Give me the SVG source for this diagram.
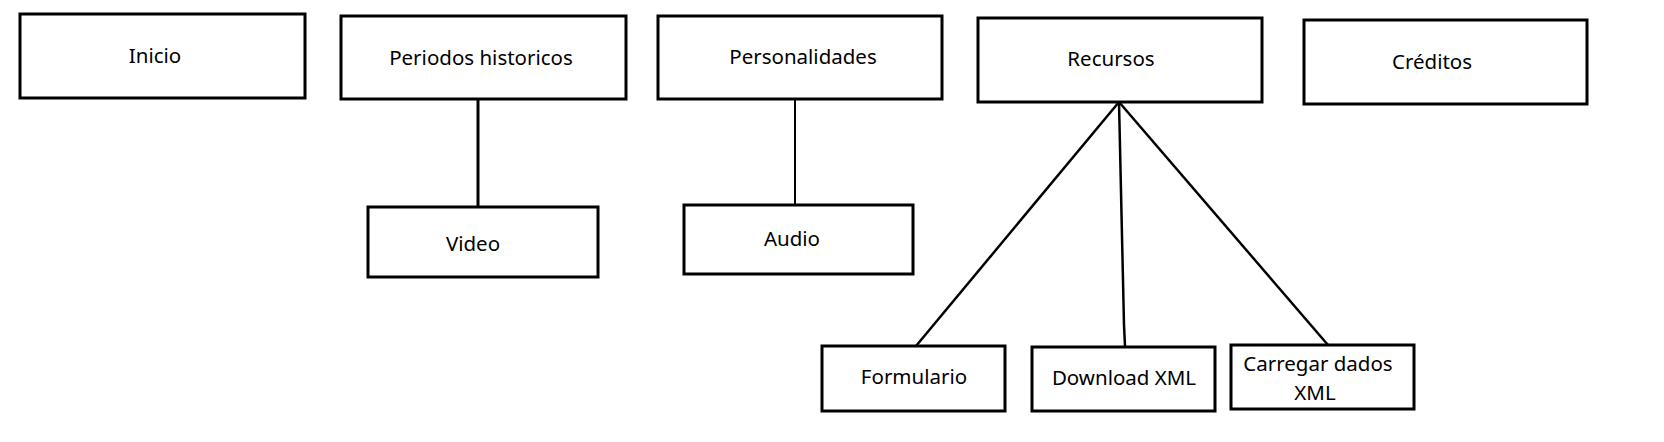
<svg xmlns="http://www.w3.org/2000/svg" width="1664" height="442" viewBox="0 0 1664 442">
<style>
.box{fill:#fff;stroke:#000;stroke-width:3}
.lbl{font-family:"Noto Sans","Liberation Sans",sans-serif;font-size:20.5px;fill:#000;text-anchor:middle}
.con{fill:none;stroke:#000;stroke-width:2.5;stroke-linejoin:round}
</style>
<rect width="1664" height="442" fill="#fff"/>
<g id="connectors">
<line class="con" x1="478" y1="99" x2="478" y2="207" style="stroke-width:3"/>
<line class="con" x1="795" y1="99" x2="795" y2="205" style="stroke-width:2"/>
<line class="con" x1="1119" y1="102" x2="916" y2="346"/>
<polyline class="con" points="1119,102 1124,325 1125,346"/>
<line class="con" x1="1119" y1="102" x2="1328" y2="345"/>
</g>
<g id="inicio"><rect class="box" x="20" y="14" width="285" height="84"/><text class="lbl" x="155" y="63">Inicio</text></g>
<g id="periodos"><rect class="box" x="341" y="16" width="285" height="83"/><text class="lbl" x="481" y="65">Periodos historicos</text></g>
<g id="video"><rect class="box" x="368" y="207" width="230" height="70"/><text class="lbl" x="473" y="251">Video</text></g>
<g id="personalidades"><rect class="box" x="658" y="16" width="284" height="83"/><text class="lbl" x="803" y="64">Personalidades</text></g>
<g id="audio"><rect class="box" x="684" y="205" width="229" height="69"/><text class="lbl" x="792" y="246">Audio</text></g>
<g id="recursos"><rect class="box" x="978" y="18" width="284" height="84"/><text class="lbl" x="1111" y="66">Recursos</text></g>
<g id="creditos"><rect class="box" x="1304" y="20" width="283" height="84"/><text class="lbl" x="1432" y="69">Créditos</text></g>
<g id="formulario"><rect class="box" x="822" y="346" width="183" height="65"/><text class="lbl" x="914" y="384">Formulario</text></g>
<g id="download"><rect class="box" x="1032" y="347" width="183" height="64"/><text class="lbl" x="1124" y="385">Download XML</text></g>
<g id="carregar"><rect class="box" x="1231" y="345" width="183" height="64"/><text class="lbl" x="1318" y="371">Carregar dados</text><text class="lbl" x="1315" y="400">XML</text></g>
</svg>
